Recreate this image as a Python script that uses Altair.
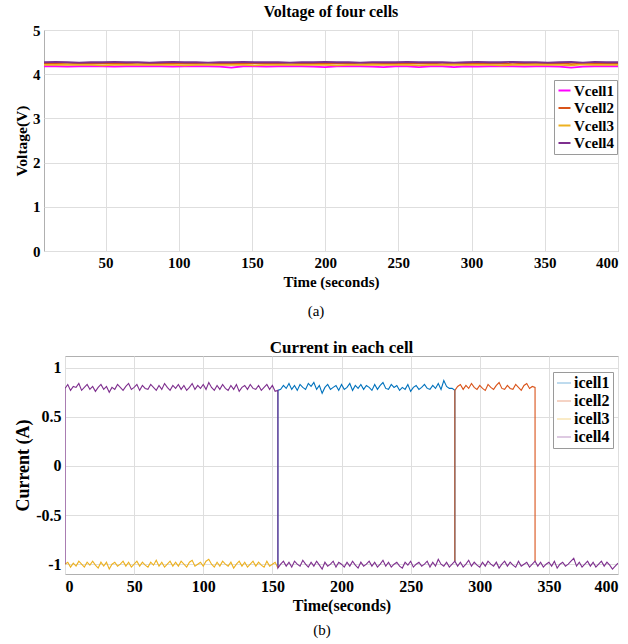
import altair as alt
import pandas as pd

FONT = "Liberation Serif"

# ---- Voltage of the four cells (sampled every 8 s from t = 8 s) ----
T_VOLT = list(range(8, 401, 8))
V_CELLS = ["Vcell1", "Vcell2", "Vcell3", "Vcell4"]
V_COLORS = ["#ff00ff", "#d95319", "#edb120", "#7e2f8e"]
VCELL1 = [4.18, 4.18, 4.17, 4.18, 4.18, 4.18, 4.17, 4.18, 4.18, 4.18,
          4.18, 4.17, 4.18, 4.18, 4.18, 4.17, 4.15, 4.18, 4.18, 4.17,
          4.18, 4.18, 4.18, 4.17, 4.16, 4.18, 4.18, 4.18, 4.17, 4.16,
          4.18, 4.18, 4.16, 4.18, 4.18, 4.16, 4.18, 4.17, 4.18, 4.18,
          4.18, 4.17, 4.18, 4.18, 4.17, 4.15, 4.17, 4.18, 4.18, 4.18]
VCELL2 = [4.24, 4.24, 4.23, 4.24, 4.24, 4.25, 4.24, 4.24, 4.23, 4.24,
          4.24, 4.25, 4.24, 4.24, 4.23, 4.24, 4.24, 4.24, 4.25, 4.24,
          4.24, 4.23, 4.24, 4.24, 4.24, 4.25, 4.24, 4.23, 4.24, 4.24,
          4.24, 4.24, 4.25, 4.24, 4.23, 4.24, 4.24, 4.25, 4.24, 4.24,
          4.23, 4.24, 4.24, 4.24, 4.25, 4.23, 4.24, 4.24, 4.24, 4.24]
VCELL3 = [4.21, 4.21, 4.22, 4.21, 4.21, 4.20, 4.21, 4.21, 4.22, 4.21,
          4.21, 4.21, 4.20, 4.21, 4.22, 4.21, 4.21, 4.21, 4.20, 4.21,
          4.21, 4.22, 4.21, 4.21, 4.21, 4.20, 4.21, 4.21, 4.22, 4.21,
          4.21, 4.21, 4.20, 4.21, 4.21, 4.22, 4.21, 4.21, 4.21, 4.20,
          4.21, 4.21, 4.22, 4.21, 4.21, 4.20, 4.22, 4.21, 4.21, 4.21]
VCELL4 = [4.27, 4.28, 4.27, 4.26, 4.27, 4.27, 4.28, 4.27, 4.27, 4.26,
          4.27, 4.28, 4.27, 4.27, 4.26, 4.27, 4.27, 4.28, 4.27, 4.27,
          4.27, 4.26, 4.27, 4.27, 4.28, 4.27, 4.27, 4.26, 4.27, 4.27,
          4.27, 4.28, 4.27, 4.27, 4.27, 4.26, 4.27, 4.28, 4.27, 4.27,
          4.28, 4.27, 4.27, 4.26, 4.27, 4.28, 4.26, 4.28, 4.27, 4.27]

# ---- Cell currents (sampled every 2 s) ----
I_CELLS = ["icell1", "icell2", "icell3", "icell4"]
I_COLORS = ["#0072bd", "#d95319", "#edb120", "#7e2f8e"]
# upper (charging) trace, t = 0..340 s
I_UPPER = [0.79, 0.83, 0.77, 0.81, 0.80, 0.84, 0.77, 0.80, 0.83, 0.78,
           0.81, 0.76, 0.80, 0.83, 0.78, 0.81, 0.75, 0.80, 0.78, 0.83,
           0.80, 0.77, 0.81, 0.84, 0.78, 0.80, 0.83, 0.77, 0.82, 0.79,
           0.78, 0.83, 0.80, 0.77, 0.82, 0.78, 0.84, 0.80, 0.77, 0.82,
           0.79, 0.83, 0.78, 0.82, 0.77, 0.80, 0.84, 0.78, 0.82, 0.79,
           0.83, 0.78, 0.85, 0.80, 0.77, 0.82, 0.78, 0.83, 0.79, 0.77,
           0.82, 0.78, 0.83, 0.76, 0.80, 0.82, 0.78, 0.83, 0.79, 0.78,
           0.82, 0.77, 0.80, 0.83, 0.78, 0.82, 0.76, 0.77, 0.78, 0.82,
           0.79, 0.84, 0.78, 0.82, 0.77, 0.83, 0.80, 0.78, 0.84, 0.81,
           0.85, 0.78, 0.82, 0.74, 0.80, 0.83, 0.78, 0.80, 0.82, 0.77,
           0.83, 0.78, 0.80, 0.84, 0.77, 0.82, 0.79, 0.83, 0.78, 0.82,
           0.80, 0.77, 0.83, 0.78, 0.82, 0.85, 0.79, 0.78, 0.83, 0.80,
           0.82, 0.77, 0.80, 0.78, 0.83, 0.76, 0.80, 0.82, 0.78, 0.80,
           0.83, 0.79, 0.78, 0.82, 0.79, 0.84, 0.78, 0.87, 0.81, 0.79,
           0.79, 0.77, 0.81, 0.83, 0.78, 0.82, 0.79, 0.84, 0.80, 0.78,
           0.82, 0.79, 0.77, 0.83, 0.80, 0.78, 0.82, 0.85, 0.79, 0.78,
           0.82, 0.79, 0.78, 0.83, 0.80, 0.77, 0.82, 0.84, 0.79, 0.81,
           0.80]
# lower (discharging) trace, t = 0..400 s
I_LOWER = [-1.00, -0.98, -1.03, -0.99, -1.02, -0.97, -1.00, -1.03, -0.98, -1.01,
           -0.97, -1.01, -1.04, -0.98, -1.02, -0.98, -1.05, -1.00, -0.98, -1.02,
           -1.00, -0.97, -1.02, -0.98, -1.03, -1.00, -0.97, -1.02, -0.98, -1.01,
           -1.03, -0.98, -1.01, -0.96, -1.02, -0.98, -1.03, -1.00, -0.97, -1.02,
           -0.98, -1.02, -0.97, -1.00, -1.03, -0.98, -0.96, -1.02, -1.00, -0.98,
           -1.02, -0.97, -0.95, -1.00, -1.03, -0.98, -1.02, -0.97, -1.00, -1.02,
           -0.98, -1.04, -1.00, -0.97, -1.02, -0.98, -1.03, -1.00, -0.97, -1.02,
           -0.98, -1.01, -1.03, -0.97, -1.02, -1.00, -0.98, -1.04, -1.00, -0.97,
           -1.02, -0.98, -1.03, -0.97, -1.00, -1.02, -0.96, -1.00, -1.03, -0.98,
           -1.02, -0.97, -1.01, -1.05, -0.98, -1.02, -1.00, -0.97, -1.03, -0.98,
           -1.00, -1.03, -0.98, -1.02, -0.97, -1.01, -1.04, -0.98, -1.02, -1.00,
           -0.97, -1.02, -0.98, -1.03, -1.00, -0.96, -1.02, -0.98, -1.03, -1.00,
           -0.98, -1.02, -1.04, -0.98, -1.01, -0.97, -1.03, -1.00, -0.98, -1.02,
           -1.00, -0.97, -1.03, -0.98, -1.02, -0.95, -1.00, -1.02, -0.98, -1.03,
           -1.00, -0.97, -1.02, -0.98, -1.03, -1.00, -0.96, -1.02, -0.98, -1.01,
           -1.03, -0.98, -1.02, -0.97, -1.00, -1.02, -0.98, -1.04, -1.00, -0.97,
           -1.02, -0.98, -1.01, -1.03, -0.97, -1.02, -1.00, -0.98, -1.03, -1.00,
           -0.97, -1.02, -0.98, -1.03, -1.00, -0.98, -1.02, -0.97, -1.04, -1.00,
           -0.98, -1.02, -1.00, -0.97, -0.94, -1.02, -0.98, -1.03, -1.00, -0.97,
           -1.02, -0.98, -1.03, -1.00, -0.97, -1.02, -0.98, -1.01, -1.05, -1.02,
           -0.99]
# switching instants (s)
T_SWITCH_1 = 154   # icell4 -> discharge, icell1 -> charge
T_SWITCH_2 = 282   # icell1 -> discharge, icell2 -> charge
T_SWITCH_3 = 340   # icell2 -> discharge

# ---- build long-form tables ----
v_rows = []
for name, series in zip(V_CELLS, [VCELL1, VCELL2, VCELL3, VCELL4]):
    for k, (t, v) in enumerate(zip(T_VOLT, series)):
        v_rows.append({"t": t, "v": v, "vcell": name, "k": k})
volt_df = pd.DataFrame(v_rows)


def upper(a, b):
    return [(t, I_UPPER[t // 2]) for t in range(a, b + 1, 2)]


def lower(a, b):
    return [(t, I_LOWER[t // 2]) for t in range(a, b + 1, 2)]


paths = {
    "icell1": lower(T_SWITCH_1, T_SWITCH_1) + upper(T_SWITCH_1, T_SWITCH_2) + lower(T_SWITCH_2, T_SWITCH_2),
    "icell2": lower(T_SWITCH_2, T_SWITCH_2) + upper(T_SWITCH_2, T_SWITCH_3) + lower(T_SWITCH_3, T_SWITCH_3),
    "icell3": lower(0, T_SWITCH_1),
    "icell4": lower(0, 0) + upper(0, T_SWITCH_1) + lower(T_SWITCH_1, 400),
}
i_rows = []
for name in I_CELLS:
    for k, (t, i) in enumerate(paths[name]):
        i_rows.append({"t": t, "i": i, "icell": name, "k": k})
curr_df = pd.DataFrame(i_rows)

GRID = "#dedede"
BOX = "#b0b0b0"

AXIS_STYLE = dict(labelFont=FONT, titleFont=FONT, labelFontWeight="bold",
                  titleFontWeight="bold", labelColor="black", titleColor="black",
                  gridColor=GRID, gridWidth=1, domain=False, ticks=False, labelPadding=4)
LEGEND_STYLE = dict(title=None, orient="none", labelFont=FONT, labelFontWeight="bold",
                    labelColor="black", strokeColor="#9a9a9a", fillColor="white",
                    cornerRadius=0, symbolType="stroke", labelOffset=2, padding=3)

# ---- (a) voltage panel ----
VW, VH = 574, 221
volt_lines = alt.Chart(volt_df).mark_line(strokeWidth=1.8, clip=True).encode(
    x=alt.X("t:Q", scale=alt.Scale(domain=[8, 400], nice=False, zero=False),
            axis=alt.Axis(title="Time (seconds)", values=list(range(50, 401, 50)),
                          labelFontSize=15, titleFontSize=15, titlePadding=4, **AXIS_STYLE)),
    y=alt.Y("v:Q", scale=alt.Scale(domain=[0, 5], nice=False),
            axis=alt.Axis(title="Voltage(V)", values=[0, 1, 2, 3, 4, 5],
                          labelFontSize=15, titleFontSize=15.5, titlePadding=3, **AXIS_STYLE)),
    color=alt.Color("vcell:N", scale=alt.Scale(domain=V_CELLS, range=V_COLORS),
                    legend=alt.Legend(legendX=510, legendY=50, labelFontSize=15,
                                      symbolStrokeWidth=2, symbolSize=144, rowPadding=1.5,
                                      **LEGEND_STYLE)),
    order="k:Q",
)
cap_a = alt.Chart(pd.DataFrame({"c": ["(a)"]})).mark_text(
    font=FONT, fontSize=15, fontWeight="normal", color="black").encode(
    text="c:N", x=alt.value(272), y=alt.value(281))
volt_chart = alt.layer(volt_lines, cap_a).properties(
    width=VW, height=VH,
    title=alt.TitleParams("Voltage of four cells", font=FONT, fontWeight="bold",
                          color="black", fontSize=16, offset=3, frame="group",
                          anchor="middle"),
    view=alt.ViewBackground(stroke=BOX),
)

# ---- (b) current panel ----
CW, CH = 553, 218
curr_lines = alt.Chart(curr_df).mark_line(strokeWidth=1.1, clip=True).encode(
    x=alt.X("t:Q", scale=alt.Scale(domain=[0, 400], nice=False),
            axis=alt.Axis(title="Time(seconds)", values=list(range(0, 401, 50)),
                          labelFontSize=16, titleFontSize=16, titlePadding=3, **AXIS_STYLE)),
    y=alt.Y("i:Q", scale=alt.Scale(domain=[-1.1, 1.12], nice=False, zero=False),
            axis=alt.Axis(title="Current (A)", values=[-1, -0.5, 0, 0.5, 1],
                          labelExpr="datum.value < 0 ? '-' + format(-datum.value, '~g') : format(datum.value, '~g')",
                          labelFontSize=16, titleFontSize=18, titlePadding=3, **AXIS_STYLE)),
    color=alt.Color("icell:N", scale=alt.Scale(domain=I_CELLS, range=I_COLORS),
                    legend=alt.Legend(legendX=509, legendY=16, labelFontSize=16,
                                      symbolStrokeWidth=1, symbolOpacity=0.5,
                                      symbolSize=196, rowPadding=2, **LEGEND_STYLE)),
    order="k:Q",
)
cap_b = alt.Chart(pd.DataFrame({"c": ["(b)"]})).mark_text(
    font=FONT, fontSize=15, fontWeight="normal", color="black").encode(
    text="c:N", x=alt.value(257), y=alt.value(274))
curr_chart = alt.layer(curr_lines, cap_b).properties(
    width=CW, height=CH,
    title=alt.TitleParams("Current in each cell", font=FONT, fontWeight="bold",
                          color="black", fontSize=17, offset=-1, frame="group",
                          anchor="middle"),
    view=alt.ViewBackground(stroke=BOX),
)

# empty strip that shifts the current panel to the right
shim = alt.Chart(pd.DataFrame({"z": [0]})).mark_point(opacity=0).encode(
    x=alt.value(0), y=alt.value(0)
).properties(width=21, height=CH, view=alt.ViewBackground(stroke="transparent"))

bottom_row = alt.hconcat(shim, curr_chart, spacing=0, bounds="flush")

chart = alt.vconcat(volt_chart, bottom_row, spacing=18).resolve_scale(
    color="independent"
).properties(
    padding={"left": 14, "top": 3, "right": 0, "bottom": 0}
).configure(font=FONT).configure_view(stroke=BOX)

chart.save("out.html", embed_options={"renderer": "svg", "actions": False})
